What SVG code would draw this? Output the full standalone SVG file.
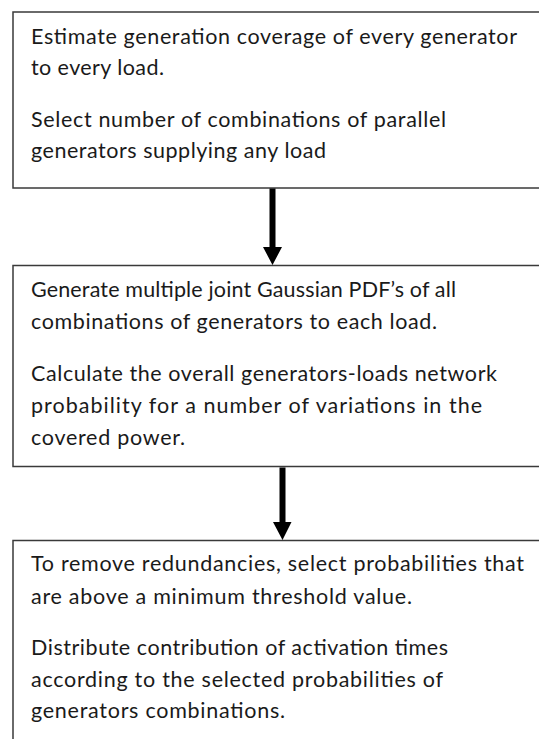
<svg xmlns="http://www.w3.org/2000/svg" width="539" height="739" viewBox="0 0 539 739">
  <style>
    .box { fill: #ffffff; stroke: #3a3a3a; stroke-width: 1.5; }
    .txt { font-family: Lato, "Liberation Sans", sans-serif; font-size: 21.5px; fill: #1a1a1a; }
    .arrow { fill: #000000; }
  </style>
  <rect x="0" y="0" width="539" height="739" fill="#ffffff"/>

  <g id="step1">
    <rect class="box" x="13" y="12" width="540" height="176"/>
    <text class="txt" x="31" y="44" textLength="486" lengthAdjust="spacing">Estimate generation coverage of every generator</text>
    <text class="txt" x="31" y="75" textLength="133" lengthAdjust="spacing">to every load.</text>
    <text class="txt" x="31" y="127" textLength="415" lengthAdjust="spacing">Select number of combinations of parallel</text>
    <text class="txt" x="31" y="158" textLength="295" lengthAdjust="spacing">generators supplying any load</text>
  </g>

  <g id="step2">
    <rect class="box" x="13" y="265.5" width="540" height="201"/>
    <text class="txt" x="31" y="297" textLength="425" lengthAdjust="spacing">Generate multiple joint Gaussian PDF’s of all</text>
    <text class="txt" x="31" y="329" textLength="406" lengthAdjust="spacing">combinations of generators to each load.</text>
    <text class="txt" x="31" y="381" textLength="466" lengthAdjust="spacing">Calculate the overall generators-loads network</text>
    <text class="txt" x="31" y="413" textLength="451" lengthAdjust="spacing">probability for a number of variations in the</text>
    <text class="txt" x="31" y="445" textLength="154" lengthAdjust="spacing">covered power.</text>
  </g>

  <g id="step3">
    <rect class="box" x="13" y="540.5" width="540" height="210"/>
    <text class="txt" x="31" y="571" textLength="493" lengthAdjust="spacing">To remove redundancies, select probabilities that</text>
    <text class="txt" x="31" y="604" textLength="381" lengthAdjust="spacing">are above a minimum threshold value.</text>
    <text class="txt" x="31" y="655" textLength="417" lengthAdjust="spacing">Distribute contribution of activation times</text>
    <text class="txt" x="31" y="687" textLength="412" lengthAdjust="spacing">according to the selected probabilities  of</text>
    <text class="txt" x="31" y="718" textLength="254" lengthAdjust="spacing">generators combinations.</text>
  </g>

  <g id="connectors">
    <polygon class="arrow" points="269.5,188.5 275.5,188.5 275.5,247 282,247 272.5,265 263,247 269.5,247"/>
    <polygon class="arrow" points="279.5,467.5 285.5,467.5 285.5,522 291.5,522 282.5,540 273,522 279.5,522"/>
  </g>
</svg>
